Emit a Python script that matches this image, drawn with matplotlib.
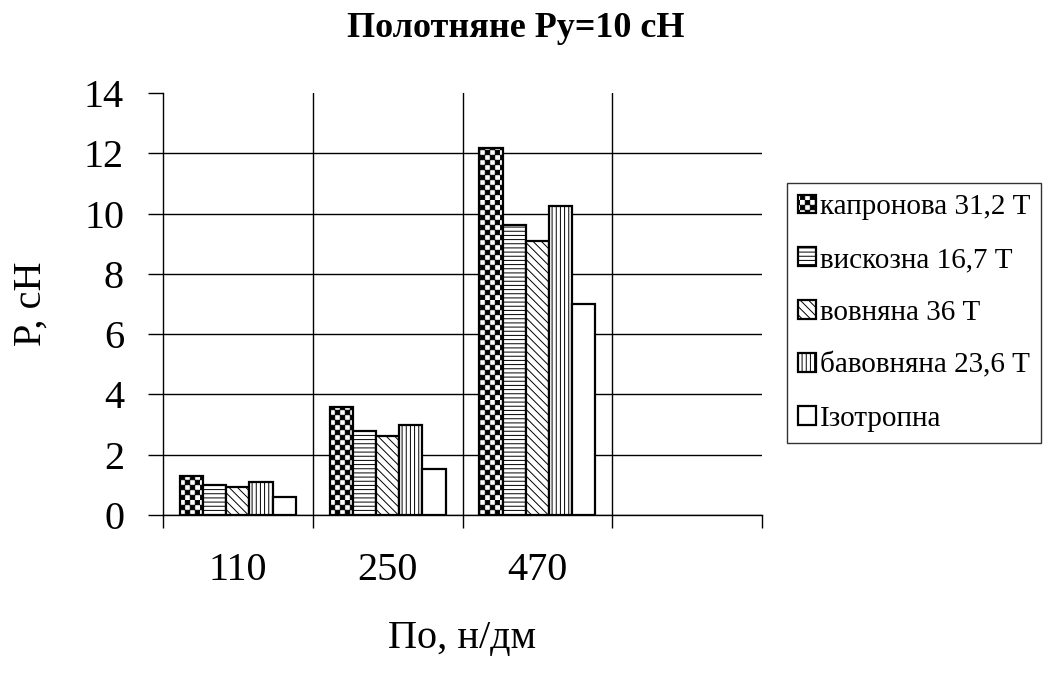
import numpy as np
import matplotlib
matplotlib.use("Agg")
import matplotlib.pyplot as plt
import matplotlib.hatch as mhatch
from matplotlib.path import Path

# ---------------- data ----------------
categories = ['110', '250', '470', '']
series_names = ['капронова 31,2 Т', 'вискозна 16,7 Т', 'вовняна 36 Т',
                'бавовняна 23,6 Т', 'Ізотропна']
kapron = [1.31, 3.57, 12.17]
viscose = [1.00, 2.79, 9.61]
wool = [0.94, 2.61, 9.08]
cotton = [1.08, 2.97, 10.25]
isotrop = [0.61, 1.51, 6.99]
yticks = [0, 2, 4, 6, 8, 10, 12, 14]
title = 'Полотняне Ру=10 сН'
xlabel = 'По, н/дм'
ylabel = 'Р, сН'


# ------------- checkerboard hatch (uses the 'O' hatch letter) -------------
class CheckerHatch(mhatch.HatchPatternBase):
    def __init__(self, hatch, density):
        self.n = 20 if hatch.count('O') else 0
        self.num_vertices = (self.n * self.n // 2) * 5

    def set_vertices_and_codes(self, vertices, codes):
        n = self.n
        s = 1.0 / n
        inset = 0.003
        k = 0
        for i in range(n):
            for j in range(n):
                if (i + j) % 2 == 0:
                    x0, y0 = i * s + inset, j * s + inset
                    x1, y1 = (i + 1) * s - inset, (j + 1) * s - inset
                    vertices[k:k + 5] = [(x0, y0), (x1, y0), (x1, y1), (x0, y1), (x0, y0)]
                    codes[k] = Path.MOVETO
                    codes[k + 1:k + 4] = Path.LINETO
                    codes[k + 4] = Path.CLOSEPOLY
                    k += 5


mhatch._hatch_types = [t for t in mhatch._hatch_types if t is not mhatch.LargeCircles]
mhatch._hatch_types.append(CheckerHatch)

plt.rcParams['font.family'] = ['Liberation Serif', 'DejaVu Serif']
plt.rcParams['hatch.linewidth'] = 0.7

fig = plt.figure(figsize=(10.56, 6.75), dpi=100)
ax = fig.add_axes([163 / 1056, 1 - 515 / 675, (762 - 163) / 1056, (515 - 93) / 675])

series = [kapron, viscose, wool, cotton, isotrop]
hatches = ['O', '----', '\\\\\\\\', '||||', '']
n_series = len(series)
width = 0.155
centers = np.arange(len(categories)) + 0.5
for i, (vals, name, h) in enumerate(zip(series, series_names, hatches)):
    x = centers[:len(vals)] + (i - (n_series - 1) / 2) * width
    ax.bar(x, vals, width=width, facecolor='white', edgecolor='black',
           linewidth=1.6, hatch=h, label=name, zorder=3)

ax.set_xlim(0, len(categories))
ax.set_ylim(0, 14)

# y axis
ax.set_yticks(yticks)
ax.set_yticklabels([str(v) for v in yticks], fontsize=29)
ax.tick_params(axis='y', direction='out', length=11, width=1, pad=17, color='black')
ax.yaxis.grid(True, color='black', linewidth=1.0, zorder=1)
ax.yaxis.get_major_ticks()[-1].gridline.set_visible(False)

# x axis: boundaries as major ticks, labels as minor ticks
ax.set_xticks(np.arange(len(categories) + 1))
ax.set_xticklabels([])
ax.set_xticks(centers, minor=True)
ax.set_xticklabels(categories, minor=True, fontsize=29)
ax.tick_params(axis='x', which='major', direction='out', length=9, width=1, color='black')
ax.tick_params(axis='x', which='minor', length=0, pad=27)
ax.xaxis.grid(True, which='major', color='black', linewidth=1.0, zorder=1)
mt = ax.xaxis.get_major_ticks()
mt[0].gridline.set_visible(False)
mt[-1].gridline.set_visible(False)

for side in ['top', 'right']:
    ax.spines[side].set_visible(False)
for side in ['left', 'bottom']:
    ax.spines[side].set_color('black')
    ax.spines[side].set_linewidth(1.0)
ax.set_axisbelow(True)

ax.set_ylabel(ylabel, fontsize=29)
ax.yaxis.set_label_coords(-0.19, 0.5)
ax.set_xlabel(xlabel, fontsize=29, va='center')
ax.xaxis.set_label_coords(0.5, -0.292)

fig.text(516 / 1056, 1 - 37 / 675, title, fontsize=26, fontweight='bold',
         ha='center', va='baseline')

leg = fig.legend(loc='upper left', bbox_to_anchor=(787 / 1056, 1 - 183 / 675),
                 bbox_transform=fig.transFigure, borderaxespad=0,
                 fontsize=21, frameon=True, fancybox=False, shadow=False,
                 handlelength=0.6, handleheight=0.6, handletextpad=0.15,
                 labelspacing=0.92, borderpad=0.38)
leg.get_frame().set_edgecolor('black')
leg.get_frame().set_linewidth(1.0)

fig.savefig('out.png', dpi=100)
